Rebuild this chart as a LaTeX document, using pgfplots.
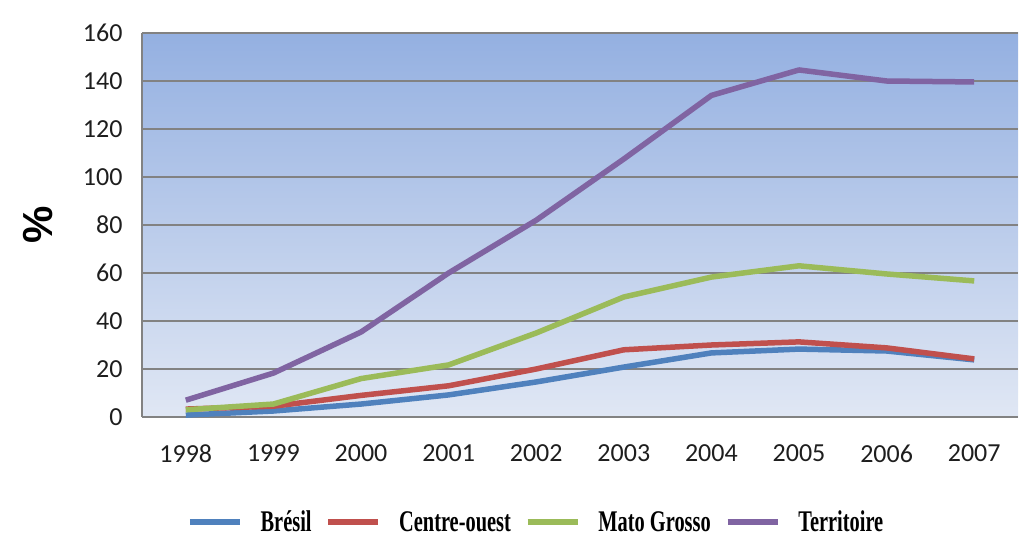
\documentclass[border=0pt]{standalone}
\usepackage{fontspec}
\setmainfont{Carlito}
\newfontfamily\legfont[FakeStretch=0.68]{Liberation Serif}
\newfontfamily\labfont{Liberation Sans}
\usepackage{pgfplots}
\pgfplotsset{compat=1.18}
\definecolor{cB}{HTML}{4F81BD}
\definecolor{cC}{HTML}{C0504D}
\definecolor{cM}{HTML}{9BBB59}
\definecolor{cT}{HTML}{8064A2}
\definecolor{bgtop}{RGB}{148,176,225}
\definecolor{bgbot}{RGB}{224,231,244}
\definecolor{gridc}{RGB}{130,130,130}
\definecolor{tickc}{RGB}{30,30,30}
\begin{document}
\begin{tikzpicture}
\useasboundingbox (0,0) rectangle (1036pt,544pt);
\begin{axis}[
  at={(142pt,127pt)}, anchor=south west,
  scale only axis, width=876pt, height=384pt,
  xmin=-0.5, xmax=9.5, ymin=0, ymax=160,
  xtick={0,...,9},
  xticklabels={1998,1999,2000,2001,2002,2003,2004,2005,2006,2007},
  ytick={0,20,...,160},
  major tick length=0pt,
  /pgf/number format/assume math mode=true,
  ticklabel style={font=\fontsize{26}{30}\selectfont, text=tickc},
  yticklabel style={xshift=-16pt},
  xticklabel style={yshift=-24pt},
  axis x line*=bottom, axis y line*=left,
  axis line style={gridc, line width=1.5pt},
  ymajorgrids, grid style={gridc, line width=1.5pt},
  axis background/.style={top color=bgtop, bottom color=bgbot},
  ylabel={\labfont\bfseries\fontsize{42}{46}\selectfont \%},
  ylabel style={at={(rel axis cs:0,0.5)}, anchor=center, rotate=0, yshift=104pt},
  legend columns=4,
  legend style={draw=none, fill=none, at={(0.45,-0.273)}, anchor=center,
    font=\legfont\bfseries\fontsize{30}{32}\selectfont,
    /tikz/every even column/.append style={column sep=12pt},
    /tikz/every odd column/.append style={column sep=6pt},
    nodes={inner sep=2pt}},
  legend image code/.code={\draw[#1, line width=5.5pt] (0pt,0pt) -- (50pt,0pt); \path (60pt,0pt);},
  every axis plot/.append style={line width=5.5pt, line join=round},
]
\addplot[cB] coordinates {(0,0.8) (1,2.5) (2,5.4) (3,9.2) (4,14.6) (5,20.8) (6,26.7) (7,28.3) (8,27.5) (9,23.8)};
\addlegendentry{Brésil}
\addplot[cC] coordinates {(0,3.3) (1,4.5) (2,9) (3,13) (4,20) (5,28) (6,30) (7,31.3) (8,28.8) (9,24.2)};
\addlegendentry{Centre-ouest\hspace{24pt}}
\addplot[cM] coordinates {(0,3) (1,5.4) (2,16) (3,21.7) (4,35) (5,50) (6,58.3) (7,63) (8,59.6) (9,56.7)};
\addlegendentry{Mato Grosso}
\addplot[cT] coordinates {(0,7) (1,18.3) (2,35.4) (3,60) (4,82) (5,107.5) (6,134) (7,144.6) (8,140) (9,139.6)};
\addlegendentry{Territoire}
\end{axis}
\end{tikzpicture}
\end{document}
